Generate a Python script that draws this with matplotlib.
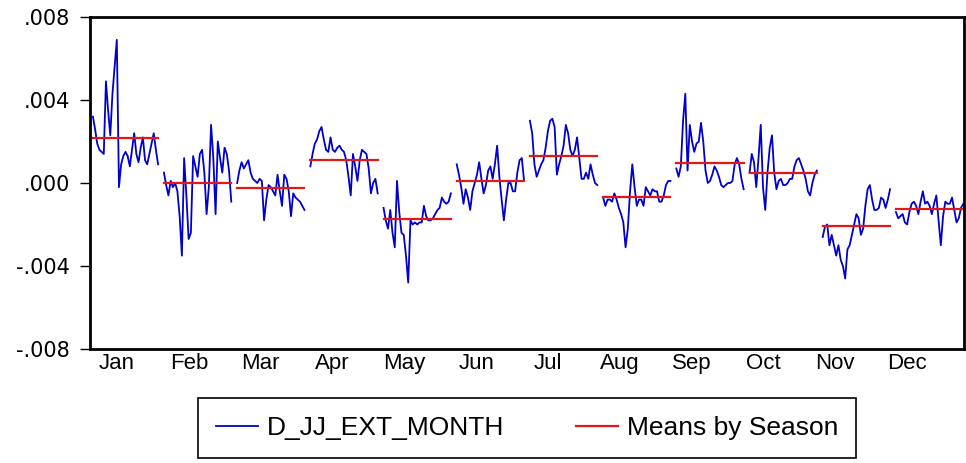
import numpy as np
import matplotlib
matplotlib.use('Agg')
import matplotlib.pyplot as plt
from matplotlib.ticker import FuncFormatter

months = ['Jan', 'Feb', 'Mar', 'Apr', 'May', 'Jun', 'Jul', 'Aug', 'Sep', 'Oct', 'Nov', 'Dec']
season_means = [0.00217, 0.0000, -0.00024, 0.0011, -0.00174, 0.0001,
                0.0013, -0.00067, 0.00096, 0.00048, -0.00207, -0.00125]

# first observation is lost to differencing
jan = [np.nan, 0.0032, 0.0026, 0.0019, 0.0016, 0.0015, 0.0014, 0.0049, 0.0035, 0.0023, 0.0043,
       0.0056, 0.0069, -0.0002, 0.0009, 0.0013, 0.0015, 0.0013, 0.0008, 0.0016, 0.0024,
       0.0014, 0.0010, 0.0017, 0.0022, 0.0011, 0.0009, 0.0014, 0.0019, 0.0024, 0.0016, 0.0009]
feb = [0.0005, -0.0001, -0.0006, 0.0001, -0.0002, 0.0000, -0.0004, -0.0016, -0.0035, 0.0012,
       -0.0006, -0.0027, -0.0024, 0.0013, 0.0008, 0.0003, 0.0014, 0.0016, 0.0005, -0.0015,
       -0.0002, 0.0028, 0.0012, -0.0015, 0.0020, 0.0012, 0.0005, 0.0017, 0.0014, 0.0006, -0.0009]
mar = [0.0000, 0.0006, 0.0010, 0.0007, 0.0009, 0.0011, 0.0005, 0.0002, 0.0001, 0.0000,
       0.0002, 0.0001, -0.0018, -0.0008, -0.0001, -0.0002, -0.0004, -0.0006, 0.0004, -0.0004,
       -0.0011, 0.0004, 0.0002, -0.0004, -0.0016, -0.0005, -0.0007, -0.0008, -0.0009, -0.0011, -0.0013]
apr = [0.0008, 0.0014, 0.0019, 0.0021, 0.0025, 0.0027, 0.0021, 0.0016, 0.0015, 0.0022,
       0.0016, 0.0015, 0.0017, 0.0018, 0.0016, 0.0015, 0.0011, 0.0003, -0.0006, 0.0014,
       0.0008, 0.0001, 0.0011, 0.0016, 0.0015, 0.0014, 0.0007, -0.0005, 0.0000, 0.0002, -0.0005]
may = [-0.0012, -0.0018, -0.0022, -0.0013, -0.0024, -0.0031, 0.0001, -0.0014, -0.0024, -0.0025,
       -0.0035, -0.0048, -0.0018, -0.0020, -0.0019, -0.0020, -0.0019, -0.0019, -0.0011, -0.0016,
       -0.0018, -0.0018, -0.0017, -0.0015, -0.0013, -0.0012, -0.0007, -0.0009, -0.0010, -0.0009, -0.0005]
jun = [0.0009, 0.0004, -0.0002, -0.0010, -0.0003, -0.0007, -0.0013, -0.0004, 0.0000, 0.0004,
       0.0010, 0.0002, -0.0005, -0.0001, 0.0006, 0.0008, 0.0002, 0.0009, 0.0018, 0.0003,
       -0.0008, -0.0018, -0.0008, 0.0000, 0.0000, -0.0004, -0.0004, 0.0005, 0.0011, 0.0012, 0.0001]
jul = [0.0030, 0.0024, 0.0009, 0.0003, 0.0006, 0.0009, 0.0011, 0.0017, 0.0025, 0.0030,
       0.0031, 0.0027, 0.0004, 0.0009, 0.0013, 0.0018, 0.0028, 0.0024, 0.0016, 0.0013,
       0.0016, 0.0022, 0.0012, 0.0002, 0.0002, 0.0005, 0.0002, 0.0009, 0.0004, 0.0000, -0.0001]
aug = [-0.0007, -0.0011, -0.0008, -0.0008, -0.0009, -0.0005, -0.0008, -0.0012, -0.0015, -0.0019,
       -0.0031, -0.0022, -0.0004, 0.0009, -0.0002, -0.0011, -0.0008, -0.0008, -0.0011, -0.0002,
       -0.0004, -0.0006, -0.0003, -0.0004, -0.0004, -0.0009, -0.0009, -0.0006, -0.0001, 0.0001, 0.0001]
sep = [0.0007, 0.0003, 0.0008, 0.0030, 0.0043, 0.0006, 0.0028, 0.0020, 0.0015, 0.0019,
       0.0020, 0.0029, 0.0020, 0.0006, 0.0000, 0.0001, 0.0004, 0.0008, 0.0006, 0.0003,
       -0.0001, -0.0002, -0.0001, 0.0000, 0.0000, 0.0001, 0.0009, 0.0012, 0.0009, 0.0002, -0.0003]
oct_ = [0.0005, 0.0014, 0.0010, -0.0002, 0.0012, 0.0028, -0.0002, -0.0013, 0.0005, 0.0017,
        0.0023, 0.0005, -0.0003, 0.0001, 0.0002, -0.0001, -0.0001, 0.0000, 0.0002, 0.0002,
        0.0008, 0.0011, 0.0012, 0.0009, 0.0006, 0.0002, -0.0004, -0.0006, 0.0000, 0.0004, 0.0006]
nov = [-0.0026, -0.0021, -0.0020, -0.0030, -0.0025, -0.0030, -0.0035, -0.0030, -0.0037, -0.0040,
       -0.0046, -0.0032, -0.0030, -0.0025, -0.0020, -0.0015, -0.0017, -0.0025, -0.0022, -0.0011,
       -0.0003, -0.0001, -0.0008, -0.0013, -0.0013, -0.0012, -0.0007, -0.0008, -0.0012, -0.0008, -0.0003]
dec = [-0.0014, -0.0017, -0.0016, -0.0015, -0.0019, -0.0020, -0.0014, -0.0010, -0.0009, -0.0011,
       -0.0015, -0.0009, -0.0004, -0.0010, -0.0009, -0.0011, -0.0015, -0.0010, -0.0006, -0.0018,
       -0.0030, -0.0016, -0.0009, -0.0010, -0.0010, -0.0007, -0.0013, -0.0019, -0.0017, -0.0012, -0.0010]

series = [jan, feb, mar, apr, may, jun, jul, aug, sep, oct_, nov, dec]

plt.rcParams['font.family'] = ['Liberation Sans', 'DejaVu Sans']

fig = plt.figure(figsize=(9.66, 4.63), dpi=100)
ax = fig.add_axes([90 / 966, 1 - 349 / 463, 874 / 966, 332 / 463])

w = 0.92  # width of one season block
for i, vals in enumerate(series):
    x = np.linspace(i, i + w, len(vals))
    ax.plot(x, vals, color='#0000cc', lw=1.3,
            label='D_JJ_EXT_MONTH' if i == 0 else None)
    ax.plot([i, i + w], [season_means[i], season_means[i]], color='#e01818', lw=1.6,
            label='Means by Season' if i == 0 else None)

ax.set_xlim(-0.01, 11.93)
ax.set_ylim(-0.008, 0.008)
ax.set_yticks([-0.008, -0.004, 0.0, 0.004, 0.008])
ax.yaxis.set_major_formatter(FuncFormatter(lambda v, p: f'{v:.3f}'.replace('0.', '.')))
# month labels sit a little left of block centres, as in the EViews output
ax.set_xticks(0.36 + 0.981 * np.arange(12))
ax.set_xticklabels(months, fontsize=16)
ax.tick_params(axis='x', length=0, pad=3)
ax.tick_params(axis='y', direction='out', length=7.5, width=1, labelsize=15, pad=7,
               labelfontfamily='DejaVu Sans')
for s in ax.spines.values():
    s.set_linewidth(2)

leg = fig.legend(loc='upper center', bbox_to_anchor=(527 / 966, 1 - 398 / 463), ncol=2,
                 frameon=True, fancybox=False, edgecolor='black', framealpha=1,
                 prop={'size': 19}, handlelength=1.6, borderaxespad=0,
                 columnspacing=2.7, borderpad=0.68, handletextpad=0.35)
leg.get_frame().set_linewidth(1.2)

fig.savefig('out.png', dpi=100)
